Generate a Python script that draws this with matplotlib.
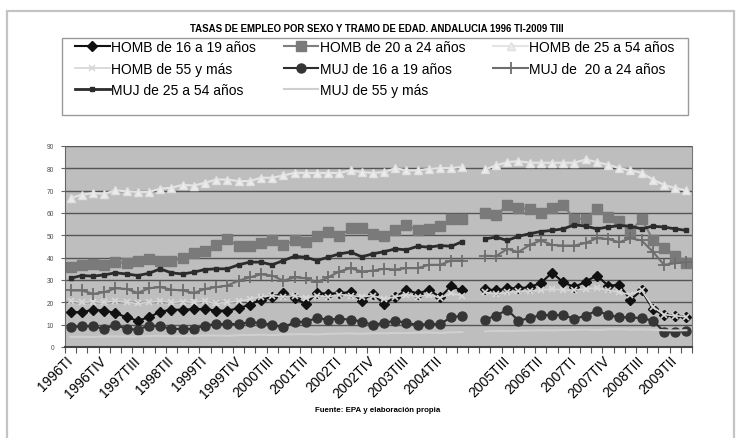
import numpy as np
import matplotlib
matplotlib.use("Agg")
import matplotlib.pyplot as plt
from matplotlib.patches import Rectangle

plt.rcParams['font.family'] = ['Liberation Sans', 'DejaVu Sans']

nan = np.nan

categories = [
    '1996TI', '1996TII', '1996TIII', '1996TIV',
    '1997TI', '1997TII', '1997TIII', '1997TIV',
    '1998TI', '1998TII', '1998TIII', '1998TIV',
    '1999TI', '1999TII', '1999TIII', '1999TIV',
    '2000TI', '2000TII', '2000TIII', '2000TIV',
    '2001TI', '2001TII', '2001TIII', '2001TIV',
    '2002TI', '2002TII', '2002TIII', '2002TIV',
    '2003TI', '2003TII', '2003TIII', '2003TIV',
    '2004TI', '2004TII', '2004TIII', '2004TIV',
    '',
    '2005TI', '2005TII', '2005TIII', '2005TIV',
    '2006TI', '2006TII', '2006TIII', '2006TIV',
    '2007TI', '2007TII', '2007TIII', '2007TIV',
    '2008TI', '2008TII', '2008TIII', '2008TIV',
    '2009TI', '2009TII', '2009TIII',
]

homb_16_19 = [15.6, 15.6, 16.7, 16.3, 15.2, 13.3, 11.8, 13.3, 15.8, 16.7, 16.7, 17.0,
              17.0, 16.3, 16.3, 17.3, 19.0, 21.2, 22.3, 24.2, 21.8, 19.3, 24.2, 23.8,
              24.2, 24.5, 20.8, 23.8, 19.3, 22.3, 25.7, 23.8, 25.7, 22.3, 27.2, 25.3,
              nan,
              26.0, 25.3, 26.3, 26.3, 26.8, 28.7, 33.2, 29.0, 26.8, 29.3, 32.0, 27.5,
              27.8, 21.2, 25.3, 17.0, 14.3, 14.0, 13.3]
homb_20_24 = [35.7, 36.8, 37.2, 36.8, 38.0, 37.5, 38.7, 39.5, 38.7, 38.3, 39.9, 42.0,
              42.9, 45.7, 48.4, 45.1, 45.1, 46.6, 48.0, 45.6, 47.7, 46.9, 49.9, 51.7,
              49.6, 53.2, 53.2, 50.7, 49.6, 52.5, 54.7, 52.2, 52.9, 54.1, 57.4, 57.4,
              nan,
              59.8, 58.9, 63.5, 62.4, 61.6, 60.1, 62.3, 63.4, 57.4, 57.4, 61.6, 58.1,
              56.6, 51.7, 57.4, 48.1, 44.2, 40.7, 37.5]
homb_25_54 = [66.7, 68.2, 68.9, 68.6, 70.1, 69.7, 69.4, 69.4, 70.9, 71.3, 72.6, 72.3,
              73.5, 75.0, 75.0, 74.3, 74.3, 75.8, 75.8, 76.8, 78.0, 77.9, 77.9, 77.9,
              77.9, 79.1, 78.3, 77.9, 78.3, 80.1, 79.1, 79.1, 79.8, 80.1, 80.1, 80.6,
              nan,
              79.5, 81.3, 82.8, 83.2, 82.5, 82.5, 82.5, 82.5, 82.5, 84.0, 82.8, 81.6,
              80.1, 79.1, 78.0, 75.0, 72.6, 71.2, 70.1]
homb_55 = [20.5, 20.0, 20.3, 20.0, 20.5, 20.0, 19.5, 20.0, 20.5, 20.0, 20.3, 20.0,
           20.5, 19.5, 20.0, 20.5, 21.5, 22.5, 23.0, 22.5, 23.0, 22.0, 23.0, 22.5,
           23.5, 23.0, 22.5, 23.0, 21.5, 22.5, 23.5, 22.5, 23.5, 22.0, 24.0, 23.0,
           nan,
           24.5, 23.8, 24.5, 25.0, 25.0, 25.5, 26.0, 25.5, 25.5, 26.0, 26.5, 25.5,
           24.5, 23.5, 25.5, 18.0, 14.5, 14.0, 13.5]
muj_16_19 = [8.8, 9.3, 9.3, 8.1, 9.9, 8.1, 7.8, 9.6, 9.3, 8.1, 8.1, 8.1,
             9.6, 10.3, 10.3, 10.3, 11.0, 10.8, 9.9, 8.8, 11.1, 11.4, 12.9, 12.3,
             12.6, 12.3, 11.4, 9.9, 10.8, 11.8, 10.8, 9.9, 10.3, 10.3, 13.3, 14.0,
             nan,
             12.3, 14.0, 16.7, 11.8, 12.9, 14.3, 14.3, 14.3, 12.6, 14.0, 16.3, 14.3,
             13.3, 13.3, 12.9, 11.8, 6.9, 6.6, 7.3]
muj_20_24 = [25.3, 25.3, 23.8, 24.5, 26.3, 26.0, 24.2, 26.3, 26.8, 25.7, 25.3, 24.2,
             26.0, 26.8, 27.5, 29.7, 31.2, 32.5, 32.0, 29.7, 31.2, 30.8, 29.0, 31.2,
             33.8, 35.3, 33.8, 34.2, 35.0, 34.7, 35.3, 35.3, 36.8, 36.8, 38.7, 38.7,
             nan,
             40.9, 40.7, 43.9, 42.5, 45.7, 47.7, 45.7, 45.4, 45.4, 46.6, 48.7, 48.4,
             46.9, 48.7, 47.7, 42.7, 36.8, 37.5, 38.0]
muj_25_54 = [30.8, 32.0, 31.7, 32.3, 33.2, 32.7, 32.0, 33.0, 35.0, 33.2, 32.7, 33.5,
             34.7, 35.0, 35.0, 36.8, 38.0, 38.0, 36.8, 38.7, 40.6, 40.2, 38.7, 40.2,
             41.7, 42.5, 40.4, 41.7, 42.7, 43.9, 43.5, 45.1, 44.7, 45.4, 45.1, 47.2,
             nan,
             48.4, 49.2, 47.7, 49.6, 50.7, 51.7, 52.2, 52.9, 54.7, 54.1, 52.9, 53.7,
             54.4, 54.1, 52.9, 54.1, 53.7, 52.9, 52.2]
muj_55 = [4.5, 4.6, 4.5, 4.7, 4.8, 4.6, 4.7, 4.9, 5.0, 4.8, 4.9, 5.0,
          5.1, 5.2, 5.0, 5.3, 5.4, 5.5, 5.3, 5.6, 5.7, 5.8, 5.6, 5.9,
          6.0, 6.1, 5.9, 6.2, 6.1, 6.3, 6.2, 6.4, 6.5, 6.3, 6.6, 6.7,
          nan,
          7.0, 7.2, 7.1, 7.3, 7.4, 7.5, 7.4, 7.6, 7.7, 7.8, 7.6, 7.9,
          8.0, 7.8, 7.9, 7.7, 7.5, 7.4, 7.5]

series = [
    ("HOMB de 16 a 19 años", homb_16_19, dict(color='#111111', lw=1.5, marker='D', ms=5.0, mfc='#111111', mec='#111111')),
    ("HOMB de 20 a 24 años", homb_20_24, dict(color='#7f7f7f', lw=1.5, marker='s', ms=6.6, mfc='#7a7a7a', mec='#7a7a7a')),
    ("HOMB de 25 a 54 años", homb_25_54, dict(color='#e4e4e4', lw=1.5, marker='^', ms=6.0, mfc='#ececec', mec='#e0e0e0')),
    ("HOMB de 55 y más", homb_55, dict(color='#d4d4d4', lw=1.2, marker='x', ms=4.5, mec='#d8d8d8', mew=1.2)),
    ("MUJ de 16 a 19 años", muj_16_19, dict(color='#2e2e2e', lw=1.5, marker='o', ms=6.5, mfc='#353535', mec='#353535')),
    ("MUJ de  20 a 24 años", muj_20_24, dict(color='#6e6e6e', lw=1.5, marker='+', ms=8, mec='#6e6e6e', mew=1.3)),
    ("MUJ de 25 a 54 años", muj_25_54, dict(color='#2c2c2c', lw=2.0, marker='s', ms=2.2, mfc='#2c2c2c', mec='#2c2c2c')),
    ("MUJ de 55 y más", muj_55, dict(color='#cfcfcf', lw=1.5)),
]

W, H = 737, 439
fig = plt.figure(figsize=(W / 100, H / 100), dpi=100)

# outer chart frame
fig.patches.append(Rectangle((7 / W, -0.1), (734 - 7) / W, 1 - 12 / H + 0.1,
                             transform=fig.transFigure, fill=False,
                             edgecolor='#c4c4c4', lw=1.6))

ax = fig.add_axes([65 / W, 1 - 348 / H, (692 - 65) / W, (348 - 147) / H])
ax.set_facecolor('#bebebe')

x = np.arange(len(categories))
handles = {}
for label, vals, st in series:
    ln, = ax.plot(x, np.array(vals, dtype=float), label=label, **st)
    handles[label] = ln

ax.set_xlim(-0.5, len(categories) - 0.5)
ax.set_ylim(0, 90)
ax.set_yticks(np.arange(0, 91, 10))
ax.yaxis.grid(True, color='#555555', lw=1.0)
ax.set_axisbelow(True)
ax.tick_params(axis='y', labelsize=4.8, labelcolor='#505050', length=3, width=0.8,
               color='#666666', pad=5)

lab_idx = list(range(0, len(categories), 3))
ax.set_xticks(lab_idx)
ax.set_xticklabels([categories[i] for i in lab_idx], rotation=45, ha='right',
                   va='center', rotation_mode='anchor', fontsize=10)
ax.tick_params(axis='x', which='major', length=0, pad=8)
ax.set_xticks(np.arange(-0.5, len(categories), 1), minor=True)
ax.tick_params(axis='x', which='minor', length=4, width=0.8, color='#555555')

ax.spines['top'].set_visible(False)
ax.spines['right'].set_color('#777777')
ax.spines['left'].set_color('#666666')
ax.spines['bottom'].set_color('#444444')
ax.spines['bottom'].set_linewidth(1.5)

# title
fig.text(377 / W, 1 - 29 / H,
         "TASAS DE EMPLEO POR SEXO Y TRAMO DE EDAD. ANDALUCIA 1996 TI-2009 TIII",
         ha='center', va='center', fontsize=6.9, fontweight='bold')

# legend frame
fig.patches.append(Rectangle((62 / W, 1 - 116 / H), (688 - 62) / W, 77 / H,
                             transform=fig.transFigure, fill=False,
                             edgecolor='#9a9a9a', lw=1.0))
order = ["HOMB de 16 a 19 años", "HOMB de 55 y más", "MUJ de 25 a 54 años",
         "HOMB de 20 a 24 años", "MUJ de 16 a 19 años", "MUJ de 55 y más",
         "HOMB de 25 a 54 años", "MUJ de  20 a 24 años"]
fig.legend([handles[k] for k in order], order, ncol=3, frameon=False,
           loc='upper left', bbox_to_anchor=(75 / W, 1 - 41 / H),
           borderpad=0, borderaxespad=0, handlelength=2.5, handletextpad=0.1,
           columnspacing=2.0, labelspacing=0.55, fontsize=10)

fig.text(378 / W, 1 - 411 / H, "Fuente: EPA y elaboración propia",
         ha='center', va='center', fontsize=5.7, fontweight='bold')

fig.savefig('out.png', dpi=100)
